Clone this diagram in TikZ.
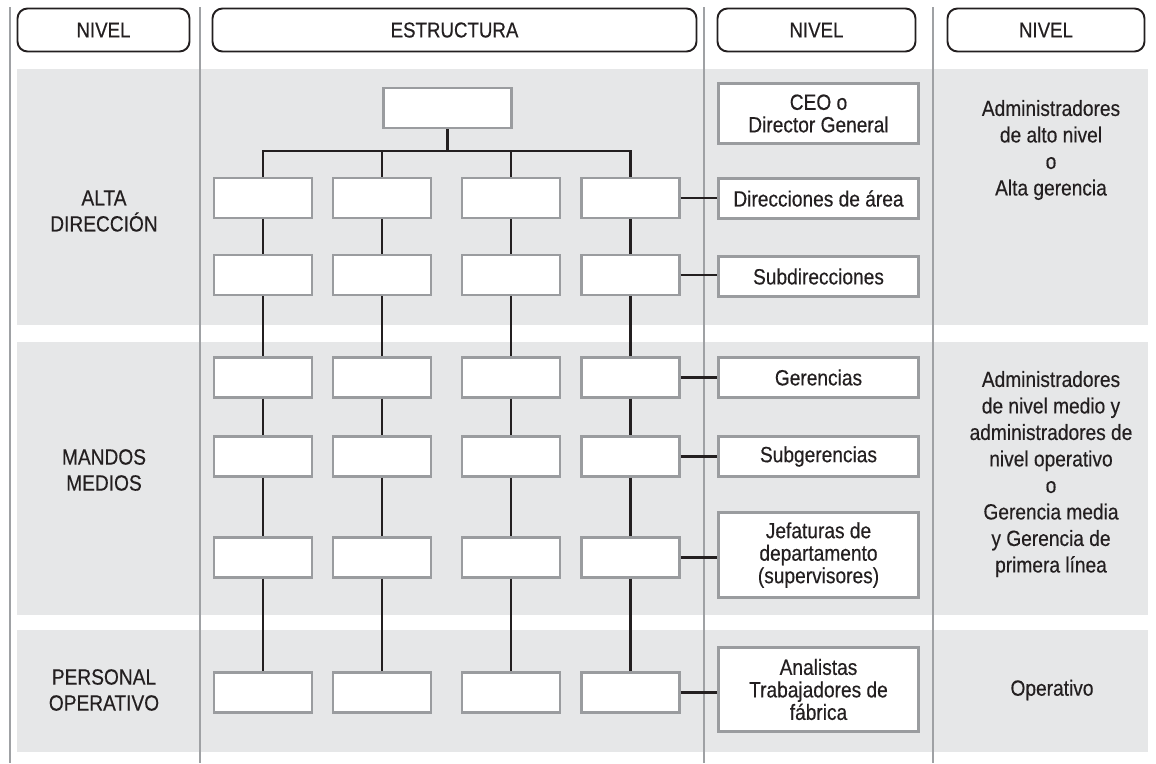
\documentclass[tikz,border=0pt]{standalone}
\usepackage{fontspec}
\setmainfont{Liberation Sans}[FakeStretch=0.87,FakeBold=0.4]
\definecolor{bandgray}{HTML}{E6E7E8}
\definecolor{boxgray}{HTML}{9A9C9F}
\definecolor{vgray}{HTML}{9FA1A4}
\definecolor{linec}{HTML}{231F20}
\definecolor{txt}{HTML}{231F20}
\tikzset{
  hdr/.style={draw=linec, line width=1.9pt, rounded corners=10pt, minimum height=43pt, inner sep=0pt, text=txt, font=\fontsize{21.5}{24}\selectfont},
  orgbox/.style={draw=boxgray, line width=2.2pt, fill=white, minimum width=98pt, minimum height=40pt, inner sep=0pt},
  rbox/.style={orgbox, minimum width=200pt, align=center, text=txt, font=\fontsize{22}{22.5}\selectfont},
  rtext/.style={align=center, inner sep=0pt, text=txt, font=\fontsize{22}{26.5}\selectfont},
  ltext/.style={align=center, inner sep=0pt, text=txt, font=\fontsize{22}{26}\selectfont},
  conn/.style={draw=linec, line width=2.4pt},
  vline/.style={draw=vgray, line width=2pt}
}
\begin{document}
\begin{tikzpicture}[x=1pt,y=-1pt]
\useasboundingbox (0,0) rectangle (1156,763);
% bands
\fill[bandgray] (17,69) rectangle (1148,325);
\fill[bandgray] (17,342) rectangle (1148,615);
\fill[bandgray] (17,630) rectangle (1148,752);
% vertical separators
\foreach \x/\n in {10/v1,200/v2,704/v3,933/v4}{
  \coordinate (\n t) at (\x,7);
  \coordinate (\n b) at (\x,763);
  \draw[vline] (\n t) -- (\n b);
}
% headers
\node[hdr, minimum width=172pt] (h1) at (103.5,30) {NIVEL};
\node[hdr, minimum width=484pt] (h2) at (454.5,30) {ESTRUCTURA};
\node[hdr, minimum width=198pt] (h3) at (816.5,30) {NIVEL};
\node[hdr, minimum width=197pt] (h4) at (1046,30) {NIVEL};
% left labels
\node[ltext] (l1) at (104,211) {ALTA\\DIRECCIÓN};
\node[ltext] (l2) at (104,470) {MANDOS\\MEDIOS};
\node[ltext] (l3) at (104,690) {PERSONAL\\OPERATIVO};
% org chart
\node[orgbox, minimum width=128pt] (top) at (447.5,108) {};
\foreach \r/\y in {a/198,b/275,c/377.5,d/456.5,e/557.5,f/692.5}{
  \foreach \c/\x in {1/263,2/382,3/511,4/630.5}{
    \node[orgbox] (\r\c) at (\x,\y) {};
  }
}
\coordinate (bus) at (447.5,151);
\draw[conn] (top.south) -- (bus);
\draw[conn] (a1.north) -- (a1.north |- bus) -- (a4.north |- bus) -- (a4.north);
\draw[conn] (a2.north |- bus) -- (a2.north);
\draw[conn] (a3.north |- bus) -- (a3.north);
\foreach \c in {1,2,3,4}{
  \draw[conn] (a\c.south) -- (b\c.north);
  \draw[conn] (b\c.south) -- (c\c.north);
  \draw[conn] (c\c.south) -- (d\c.north);
  \draw[conn] (d\c.south) -- (e\c.north);
  \draw[conn] (e\c.south) -- (f\c.north);
}
% right boxes
\node[rbox, minimum height=60pt] (ceo) at (818.5,113.5) {CEO o\\Director General};
\node[rbox] (dir) at (818.5,198.5) {Direcciones de área};
\node[rbox] (sub) at (818.5,276.5) {Subdirecciones};
\node[rbox] (ger) at (818.5,377.5) {Gerencias};
\node[rbox] (sger) at (818.5,456.5) {Subgerencias};
\node[rbox, minimum height=85pt] (jef) at (818.5,555) {Jefaturas de\\departamento\\(supervisores)};
\node[rbox, minimum height=84pt] (ana) at (818.5,689.5) {Analistas\\Trabajadores de\\fábrica};
\draw[conn] (a4.east) -- (a4.east -| dir.west);
\draw[conn] (b4.east) -- (b4.east -| sub.west);
\draw[conn] (c4.east) -- (c4.east -| ger.west);
\draw[conn] (d4.east) -- (d4.east -| sger.west);
\draw[conn] (e4.east) -- (e4.east -| jef.west);
\draw[conn] (f4.east) -- (f4.east -| ana.west);
% right texts
\node[rtext] (r1) at (1051,150) {Administradores\\de alto nivel\\o\\Alta gerencia};
\node[rtext] (r2) at (1051,474) {Administradores\\de nivel medio y\\administradores de\\nivel operativo\\o\\Gerencia media\\y Gerencia de\\primera línea};
\node[rtext] (r3) at (1052,690) {Operativo};
\end{tikzpicture}
\end{document}
